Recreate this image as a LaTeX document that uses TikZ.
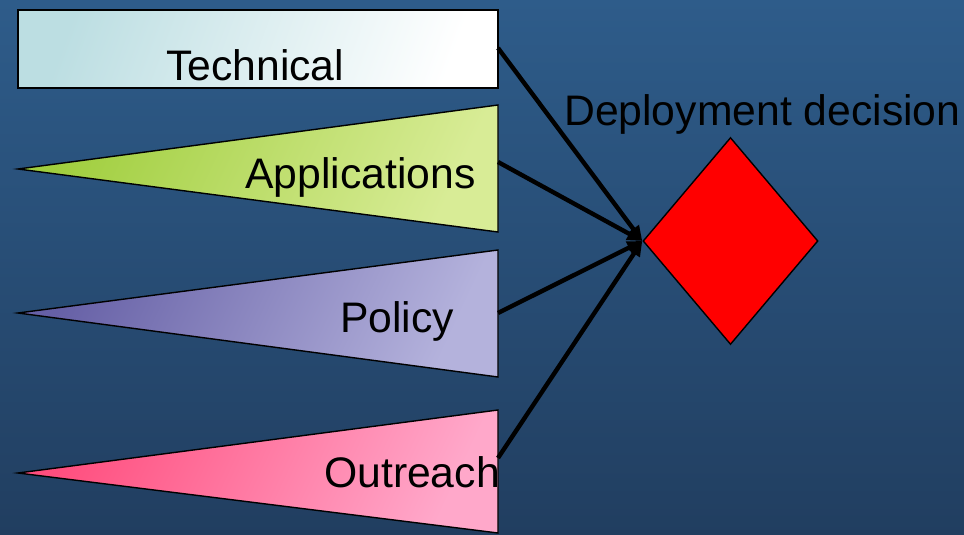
\documentclass[tikz,border=0pt]{standalone}
\usepackage{fontspec}
\setmainfont{Liberation Sans}
\usetikzlibrary{shapes.geometric,arrows.meta}
\definecolor{bgtop}{RGB}{46,92,138}
\definecolor{bgbot}{RGB}{33,62,96}
\definecolor{techL}{RGB}{188,222,226}
\definecolor{appL}{RGB}{160,206,62}
\definecolor{appR}{RGB}{216,236,150}
\definecolor{polL}{RGB}{102,96,166}
\definecolor{polR}{RGB}{180,178,220}
\definecolor{outL}{RGB}{255,78,126}
\definecolor{outR}{RGB}{255,168,202}
\begin{document}
\begin{tikzpicture}[x=1pt,y=-1pt,
  lbl/.style={font=\fontsize{42.7}{50}\selectfont, inner sep=0pt, text=black},
  shapeline/.style={draw=black, line width=1.4pt},
  conn/.style={line width=4.4pt, draw=black, -{Triangle[length=15pt,width=13pt]}}]
\shade[top color=bgtop, bottom color=bgbot] (0,0) rectangle (964,535);
\useasboundingbox (0,0) rectangle (964,535);

% Technical
\node[rectangle, shapeline, minimum width=480pt, minimum height=78pt, inner sep=0pt,
      left color=techL, right color=white, shading angle=70] (tech) at (258,49) {};
\node[lbl, anchor=base west] (techlbl) at (166,81) {Technical};

% Applications
\draw[shapeline, left color=appL, right color=appR, shading angle=65]
  (18,169) coordinate (appTip) -- (498,105) coordinate (appTop) -- (498,232) coordinate (appBot) -- cycle;
\node[lbl, anchor=base west] (applbl) at (245,188) {Applications};

% Policy
\draw[shapeline, left color=polL, right color=polR, shading angle=65]
  (18,313) coordinate (polTip) -- (498,250) coordinate (polTop) -- (498,377) coordinate (polBot) -- cycle;
\node[lbl, anchor=base west] (pollbl) at (340,332) {Policy};

% Outreach
\draw[shapeline, left color=outL, right color=outR, shading angle=65]
  (18,473) coordinate (outTip) -- (498,410) coordinate (outTop) -- (498,533) coordinate (outBot) -- cycle;
\node[lbl, anchor=base west] (outlbl) at (324,487) {Outreach};

% Decision
\node[diamond, shapeline, fill=red, minimum width=175pt, minimum height=207pt, inner sep=0pt] (dec) at (730.5,241) {};
\node[lbl, anchor=base west] (declbl) at (564,125) {Deployment decision};

% connectors
\coordinate (techOut) at (498,48);
\coordinate (appOut) at (498,162);
\coordinate (polOut) at (498,313);
\coordinate (outOut) at (498,458);
\draw[conn] (techOut) -- (dec.west);
\draw[conn] (appOut) -- (dec.west);
\draw[conn] (polOut) -- (dec.west);
\draw[conn] (outOut) -- (dec.west);
\end{tikzpicture}
\end{document}
